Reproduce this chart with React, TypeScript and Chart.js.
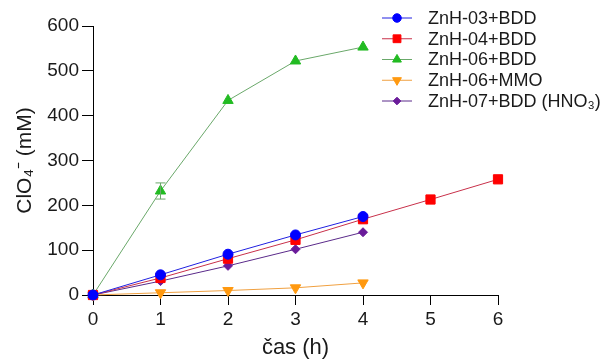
import React, { useEffect, useRef } from "react";
import { Chart, registerables } from "chart.js";

Chart.register(...registerables);

const hours = [0, 1, 2, 3, 4, 5, 6];
const seriesNames = [
  "ZnH-03+BDD",
  "ZnH-04+BDD",
  "ZnH-06+BDD",
  "ZnH-06+MMO",
  "ZnH-07+BDD (HNO₃)",
];
const znh03bdd = [0, 45, 91, 134, 175];
const znh04bdd = [0, 38, 81, 123, 169, 213, 258];
const znh06bdd = [0, 232, 434, 522, 553];
const znh06bddErr = [0, 18, 0, 0, 0];
const znh06mmo = [0, 5, 10, 16, 27];
const znh07bdd = [0, 31, 65, 102, 140];
const xTicks = [0, 1, 2, 3, 4, 5, 6];
const yTicks = [0, 100, 200, 300, 400, 500, 600];

const FONT = "Arial, 'Liberation Sans', sans-serif";
const TEXT = "#1a1a1a";

const toPts = (vals: number[]) => vals.map((v, i) => ({ x: hours[i], y: v }));

function drawMarker(ctx: CanvasRenderingContext2D, style: string, r: number, rot: number, x: number, y: number) {
  ctx.save();
  ctx.translate(x, y);
  ctx.rotate((rot * Math.PI) / 180);
  ctx.beginPath();
  if (style === "circle") {
    ctx.arc(0, 0, r, 0, Math.PI * 2);
  } else if (style === "rect") {
    const s = Math.SQRT1_2 * r;
    ctx.rect(-s, -s, 2 * s, 2 * s);
  } else if (style === "triangle") {
    for (let k = 0; k < 3; k++) {
      const a = -Math.PI / 2 + (k * 2 * Math.PI) / 3;
      const px = Math.cos(a) * r;
      const py = Math.sin(a) * r;
      if (k === 0) ctx.moveTo(px, py);
      else ctx.lineTo(px, py);
    }
    ctx.closePath();
  } else if (style === "rectRot") {
    ctx.moveTo(0, -r);
    ctx.lineTo(r, 0);
    ctx.lineTo(0, r);
    ctx.lineTo(-r, 0);
    ctx.closePath();
  }
  ctx.fill();
  ctx.stroke();
  ctx.restore();
}

const errorBarPlugin = {
  id: "errorBars",
  afterDatasetsDraw(chart: any) {
    const ctx = chart.ctx;
    chart.data.datasets.forEach((ds: any, di: number) => {
      if (!ds.errors) return;
      const meta = chart.getDatasetMeta(di);
      const ys = chart.scales.y;
      ctx.save();
      ctx.strokeStyle = ds.borderColor;
      ctx.lineWidth = 1;
      ds.data.forEach((p: any, i: number) => {
        const e = ds.errors[i];
        if (!e) return;
        const px = meta.data[i].x;
        const top = ys.getPixelForValue(p.y + e);
        const bot = ys.getPixelForValue(p.y - e);
        ctx.beginPath();
        ctx.moveTo(px, top);
        ctx.lineTo(px, bot);
        ctx.moveTo(px - 5, top);
        ctx.lineTo(px + 5, top);
        ctx.moveTo(px - 5, bot);
        ctx.lineTo(px + 5, bot);
        ctx.stroke();
      });
      ctx.restore();
    });
  },
};

const legendPlugin = {
  id: "lineLegend",
  afterDraw(chart: any) {
    const ctx = chart.ctx;
    const x0 = 382;
    const x1 = 412;
    const tx = 428;
    const y0 = 18;
    const dy = 20.75;
    ctx.save();
    chart.data.datasets.forEach((ds: any, i: number) => {
      const y = y0 + i * dy;
      ctx.strokeStyle = ds.borderColor;
      ctx.lineWidth = 1;
      ctx.beginPath();
      ctx.moveTo(x0, y);
      ctx.lineTo(x1, y);
      ctx.stroke();
      ctx.fillStyle = ds.pointBackgroundColor;
      ctx.strokeStyle = ds.pointBorderColor;
      drawMarker(ctx, ds.pointStyle, ds.pointRadius * 0.85, ds.pointRotation || 0, (x0 + x1) / 2, y);
      ctx.fillStyle = TEXT;
      ctx.font = `18px ${FONT}`;
      ctx.textBaseline = "middle";
      ctx.textAlign = "left";
      ctx.fillText(ds.label, tx, y + 1);
    });
    ctx.restore();
  },
};

export default function App() {
  const ref = useRef<HTMLCanvasElement | null>(null);
  useEffect(() => {
    document.body.style.margin = "0";
    if (!ref.current) return;
    const common = { borderWidth: 1, clip: false as any, pointBorderWidth: 1, pointHoverRadius: 5 };
    const chart = new Chart(ref.current, {
      type: "line",
      data: {
        datasets: [
          {
            ...common,
            label: seriesNames[0],
            data: toPts(znh03bdd),
            borderColor: "#2020e0",
            pointBackgroundColor: "#0000ff",
            pointBorderColor: "#0000ff",
            pointStyle: "circle",
            pointRadius: 5,
          },
          {
            ...common,
            label: seriesNames[1],
            data: toPts(znh04bdd),
            borderColor: "#c8304a",
            pointBackgroundColor: "#ff0000",
            pointBorderColor: "#ff0000",
            pointStyle: "rect",
            pointRadius: 6.5,
          },
          {
            ...common,
            label: seriesNames[2],
            data: toPts(znh06bdd),
            errors: znh06bddErr,
            borderColor: "#6aa86a",
            pointBackgroundColor: "#22bb22",
            pointBorderColor: "#22bb22",
            pointStyle: "triangle",
            pointRadius: 6,
          } as any,
          {
            ...common,
            label: seriesNames[3],
            data: toPts(znh06mmo),
            borderColor: "#f0a040",
            pointBackgroundColor: "#ff9910",
            pointBorderColor: "#ff9910",
            pointStyle: "triangle",
            pointRotation: 180,
            pointRadius: 6,
          },
          {
            ...common,
            label: seriesNames[4],
            data: toPts(znh07bdd),
            borderColor: "#5a2a8a",
            pointBackgroundColor: "#6a1b9a",
            pointBorderColor: "#6a1b9a",
            pointStyle: "rectRot",
            pointRadius: 4.5,
          },
        ],
      },
      options: {
        animation: false,
        responsive: false,
        layout: { padding: { top: 26, right: 108, left: 0, bottom: 0 } },
        plugins: {
          legend: { display: false },
          tooltip: { enabled: false },
        },
        scales: {
          x: {
            type: "linear",
            min: 0,
            max: 6,
            afterFit: (s: any) => {
              s.height = 68;
            },
            afterBuildTicks: (s: any) => {
              s.ticks = xTicks.map((v) => ({ value: v }));
            },
            grid: {
              display: true,
              drawOnChartArea: false,
              drawTicks: true,
              tickLength: 10,
              color: "#000",
              lineWidth: 1,
            },
            border: { display: true, color: "#000", width: 1 },
            ticks: {
              color: TEXT,
              font: { family: FONT, size: 19 },
              padding: 3,
              maxRotation: 0,
            },
            title: {
              display: true,
              text: "čas (h)",
              color: TEXT,
              font: { family: FONT, size: 22 },
              padding: { top: 0, bottom: 2 },
            },
          },
          y: {
            type: "linear",
            min: 0,
            max: 600,
            afterFit: (s: any) => {
              s.width = 93;
            },
            afterBuildTicks: (s: any) => {
              s.ticks = yTicks.map((v) => ({ value: v }));
            },
            grid: {
              display: true,
              drawOnChartArea: false,
              drawTicks: true,
              tickLength: 11,
              color: "#000",
              lineWidth: 1,
            },
            border: { display: true, color: "#000", width: 1 },
            ticks: {
              color: TEXT,
              font: { family: FONT, size: 19 },
              padding: 3,
            },
            title: {
              display: true,
              text: "ClO₄⁻ (mM)",
              color: TEXT,
              font: { family: FONT, size: 21 },
              padding: { top: 13, bottom: 0 },
            },
          },
        },
      },
      plugins: [errorBarPlugin, legendPlugin],
    });
    return () => chart.destroy();
  }, []);
  return (
    <div style={{ width: 606, height: 363 }}>
      <canvas ref={ref} width={606} height={363} style={{ display: "block" }} />
    </div>
  );
}
